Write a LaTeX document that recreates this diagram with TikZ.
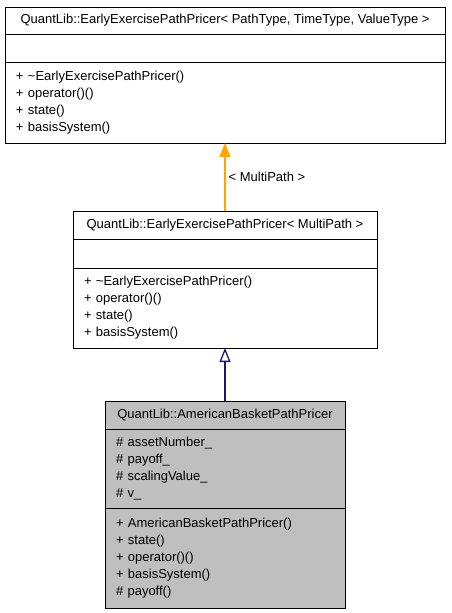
\documentclass[tikz,border=0pt]{standalone}
\usepackage{fontspec}
\setmainfont{Liberation Sans}
\usetikzlibrary{arrows.meta,positioning}
\definecolor{midnight}{HTML}{191970}
\definecolor{tmplorange}{HTML}{FFA500}
\definecolor{basegray}{HTML}{BFBFBF}
\tikzset{
     cls/.style = {draw=black, line width=0.8pt, outer sep=0pt, inner xsep=11pt, inner ysep=0pt, font=\fontsize{13pt}{17pt}\selectfont},
     clstitle/.style = {cls, align=center},
     clsbody/.style = {cls, align=left, anchor=north},
     realizes/.style = {tmplorange, line width=1.3pt, -{Triangle[length=14pt,width=11pt]}},
     inherits/.style = {midnight, line width=1.3pt, -{Triangle[open,length=14pt,width=11pt]}},
    }

\begin{document}
\begin{tikzpicture}[x=1pt,y=-1pt,node distance=0pt]
        \useasboundingbox (0,0) rectangle (451,613);
        % template class
        \node [clstitle, minimum width=440pt, minimum height=27pt] (eepp) at (225,20.5)
              {QuantLib::EarlyExercisePathPricer< PathType, TimeType, ValueType >};
        \node [clsbody, minimum width=440pt, minimum height=28pt] (eepp-attr) [below=0pt of eepp] {};
        \node [clsbody, text width=418pt, minimum height=81pt] (eepp-ops) [below=0pt of eepp-attr]
              {+ \textasciitilde EarlyExercisePathPricer()\\+ operator()()\\+ state()\\+ basisSystem()};
        % instantiation
        \node [clstitle, minimum width=304pt, minimum height=28pt] (mpp) at (225,225)
              {QuantLib::EarlyExercisePathPricer< MultiPath >};
        \node [clsbody, minimum width=304pt, minimum height=29pt] (mpp-attr) [below=0pt of mpp] {};
        \node [clsbody, text width=282pt, minimum height=80pt] (mpp-ops) [below=0pt of mpp-attr]
              {+ \textasciitilde EarlyExercisePathPricer()\\+ operator()()\\+ state()\\+ basisSystem()};
        % derived class
        \node [clstitle, fill=basegray, minimum width=240pt, minimum height=28pt] (abpp) at (225,415)
              {QuantLib::AmericanBasketPathPricer};
        \node [clsbody, fill=basegray, text width=218pt, minimum height=79pt] (abpp-attr) [below=0pt of abpp]
              {\# assetNumber\_\\\# payoff\_\\\# scalingValue\_\\\# v\_};
        \node [clsbody, fill=basegray, text width=218pt, minimum height=100pt] (abpp-ops) [below=0pt of abpp-attr]
              {+ AmericanBasketPathPricer()\\+ state()\\+ operator()()\\+ basisSystem()\\\# payoff()};
        \draw [realizes] (mpp.north) -- (eepp-ops.south)
              node [midway, right, text=black, inner sep=3pt, font=\fontsize{13pt}{17pt}\selectfont] {< MultiPath >};
        \draw [inherits] (abpp.north) -- (mpp-ops.south);
    \end{tikzpicture}
\end{document}
